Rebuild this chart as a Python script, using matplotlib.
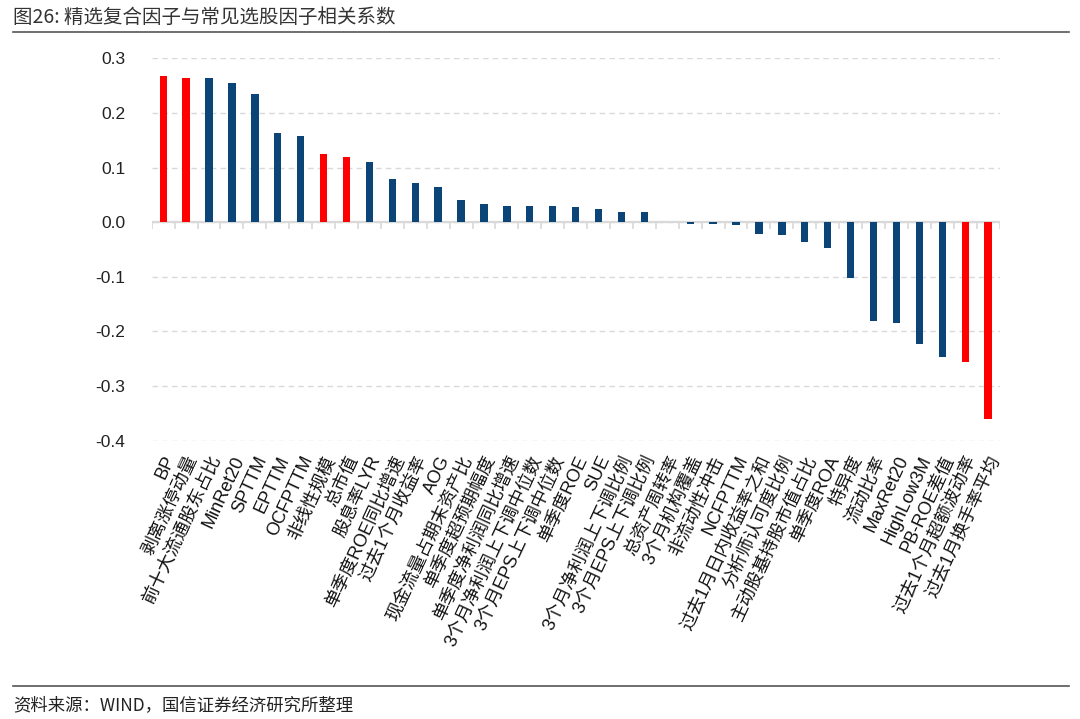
import numpy as np
import matplotlib
matplotlib.use("Agg")
import matplotlib.pyplot as plt

plt.rcParams['font.family'] = ['Liberation Sans', 'Noto Sans CJK SC', 'DejaVu Sans']
plt.rcParams['axes.unicode_minus'] = False

FACTORS = [
    'BP', '剥离涨停动量', '前十大流通股东占比', 'MinRet20', 'SPTTM', 'EPTTM',
    'OCFPTTM', '非线性规模', '总市值', '股息率LYR', '单季度ROE同比增速',
    '过去1个月收益率', 'AOG', '现金流量占期末资产比', '单季度超预期幅度',
    '单季度净利润同比增速', '3个月净利润上下调中位数', '3个月EPS上下调中位数',
    '单季度ROE', 'SUE', '3个月净利润上下调比例', '3个月EPS上下调比例',
    '总资产周转率', '3个月机构覆盖', '非流动性冲击', 'NCFPTTM',
    '过去1月日内收益率之和', '分析师认可度比例', '主动股基持股市值占比',
    '单季度ROA', '特异度', '流动比率', 'MaxRet20', 'HighLow3M', 'PB-ROE差值',
    '过去1个月超额波动率', '过去1月换手率平均',
]
CORR = [
    0.268, 0.264, 0.264, 0.254, 0.234, 0.164, 0.158, 0.125, 0.119, 0.110,
    0.079, 0.071, 0.065, 0.040, 0.034, 0.030, 0.029, 0.029, 0.027, 0.025,
    0.019, 0.019, 0.000, -0.003, -0.003, -0.005, -0.022, -0.024, -0.036,
    -0.047, -0.103, -0.181, -0.185, -0.223, -0.247, -0.256, -0.361,
]
# selected composite factors drawn in red
SELECTED = ['BP', '剥离涨停动量', '非线性规模', '总市值',
            '过去1个月超额波动率', '过去1月换手率平均']
YTICKS = [-0.4, -0.3, -0.2, -0.1, 0.0, 0.1, 0.2, 0.3]

RED = '#FF0000'
BLUE = '#0B4476'
GRID = '#D9D9D9'

fig = plt.figure(figsize=(10.8, 7.19), dpi=100)
ax = fig.add_axes([0.1405, 0.387, 0.785, 0.532])

x = np.arange(len(FACTORS))
colors = [RED if f in SELECTED else BLUE for f in FACTORS]
ax.bar(x, CORR, width=0.32, color=colors, zorder=3)

ax.set_xlim(-0.5, len(FACTORS) - 0.5)
ax.set_ylim(-0.4, 0.3)
ax.set_yticks(YTICKS)
ax.set_yticklabels([f'{v:.1f}' for v in YTICKS])
ax.yaxis.grid(True, linestyle=(0, (4, 3)), color=GRID, linewidth=1.0, zorder=0)
ax.tick_params(axis='y', length=0, labelsize=12.5, pad=19, labelcolor='#222222')

for s in ax.spines.values():
    s.set_visible(False)

# zero line with category-boundary ticks
ax.axhline(0, color=GRID, linewidth=1.6, zorder=2)
bounds = np.arange(len(FACTORS) + 1) - 0.5
ax.vlines(bounds, -0.012, 0, color=GRID, linewidth=1.2, zorder=2)

ax.set_xticks(x)
ax.set_xticklabels(FACTORS, rotation=65, ha='right', va='top',
                   rotation_mode='anchor', fontsize=13, color='#111111')
ax.tick_params(axis='x', length=0, pad=9)

title_font = ['Noto Sans CJK SC', 'DejaVu Sans']
fig.text(0.012, 0.976, '图26: 精选复合因子与常见选股因子相关系数',
         fontsize=14, family=title_font, color='#333333',
         ha='left', va='center', fontweight='medium')
fig.add_artist(plt.Line2D([0.012, 0.99], [0.955, 0.955], color='#555555',
                          linewidth=1.2))
fig.add_artist(plt.Line2D([0.012, 0.99], [0.046, 0.046], color='#555555',
                          linewidth=1.2))
fig.text(0.012, 0.019, '资料来源：WIND，国信证券经济研究所整理',
         fontsize=12.5, family=title_font, color='#222222',
         ha='left', va='center')

fig.savefig('out.png', dpi=100)
